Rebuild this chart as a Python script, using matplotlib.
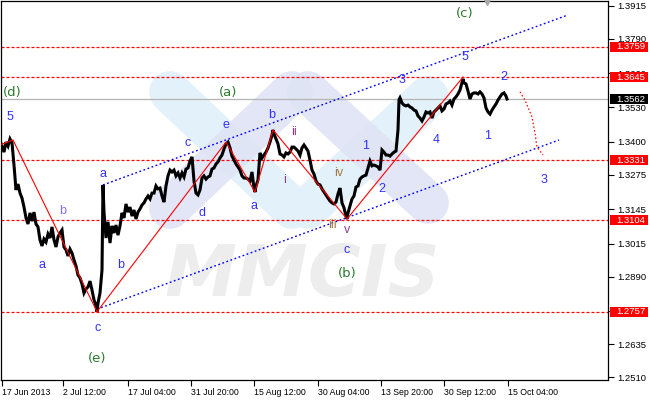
import matplotlib
matplotlib.use("Agg")
import matplotlib.pyplot as plt
import matplotlib.transforms as mtrans
from matplotlib.patches import Rectangle

# ---------------- data ----------------
bars = [0, 2, 4, 6, 8, 10, 12, 14, 16, 18, 20, 22, 24, 26, 28, 30, 32, 34, 36, 38,
        40, 42, 44, 46, 48, 50, 52, 54, 56, 58, 60, 62, 64, 66, 68, 70, 72, 74, 76, 78,
        80, 82, 84, 86, 88, 90, 92, 94, 96, 97, 98, 100, 102, 103, 104, 106, 108, 110, 112, 114,
        116, 118, 120, 122, 124, 126, 128, 130, 132, 134, 136, 138, 140, 142, 144, 146, 148, 150, 152, 154,
        156, 158, 160, 162, 164, 166, 168, 170, 172, 174, 176, 178, 180, 182, 184, 186, 188, 190, 192, 194,
        196, 198, 200, 202, 204, 206, 208, 210, 212, 214, 216, 218, 220, 222, 224, 226, 228, 230, 232, 234,
        236, 238, 240, 242, 244, 246, 248, 250, 252, 254, 255, 256, 258, 260, 262, 264, 266, 268, 270, 272,
        273, 274, 276, 278, 280, 282, 284, 286, 288, 290, 292, 294, 296, 298, 300, 302, 304, 306, 308, 310,
        312, 314, 316, 318, 320, 322, 324, 326, 328, 330, 332, 334, 336, 338, 340, 342, 344, 346, 347, 348,
        350, 352, 354, 356, 358, 360, 362, 364, 366, 368, 370, 372, 374, 376, 378, 380, 382, 384, 386, 388,
        390, 392, 394, 396, 398, 399, 400, 402, 404, 406, 408, 410, 412, 414, 416, 418, 420, 422, 424, 426,
        428, 430, 432, 434, 436, 438, 440, 442, 444, 446, 448, 450, 452, 454, 456, 458, 460, 462, 463, 464,
        466, 468, 470, 472, 474, 476, 478, 480, 482, 484, 486, 488, 490, 492, 494, 496, 498, 500, 502, 504,
        506, 507]

close = [1.3369, 1.3384, 1.3361, 1.3399, 1.3384, 1.3411, 1.3396, 1.3312, 1.3218, 1.3240,
         1.3206, 1.3187, 1.3153, 1.3112, 1.3089, 1.3131, 1.3100, 1.3134, 1.3089, 1.3078,
         1.3029, 1.3006, 1.3032, 1.3021, 1.3051, 1.3036, 1.3078, 1.3029, 1.3002, 1.3040,
         1.3055, 1.3066, 1.3002, 1.2991, 1.2968, 1.2994, 1.2979, 1.2953, 1.2930, 1.2896,
         1.2885, 1.2862, 1.2828, 1.2843, 1.2851, 1.2873, 1.2839, 1.2802, 1.2779, 1.2757,
         1.2790, 1.2828, 1.2915, 1.3237, 1.3134, 1.3036, 1.3097, 1.3017, 1.3082, 1.3055,
         1.3085, 1.3047, 1.3082, 1.3131, 1.3112, 1.3165, 1.3134, 1.3153, 1.3119, 1.3142,
         1.3108, 1.3134, 1.3146, 1.3161, 1.3169, 1.3184, 1.3195, 1.3184, 1.3206, 1.3206,
         1.3233, 1.3222, 1.3225, 1.3195, 1.3172, 1.3233, 1.3271, 1.3293, 1.3286, 1.3293,
         1.3271, 1.3282, 1.3263, 1.3282, 1.3267, 1.3297, 1.3301, 1.3327, 1.3343, 1.3252,
         1.3206, 1.3199, 1.3218, 1.3263, 1.3271, 1.3259, 1.3267, 1.3271, 1.3297, 1.3301,
         1.3316, 1.3324, 1.3339, 1.3350, 1.3373, 1.3392, 1.3399, 1.3377, 1.3346, 1.3331,
         1.3316, 1.3305, 1.3293, 1.3271, 1.3263, 1.3263, 1.3259, 1.3252, 1.3286, 1.3225,
         1.3210, 1.3233, 1.3256, 1.3358, 1.3339, 1.3350, 1.3361, 1.3377, 1.3399, 1.3426,
         1.3445, 1.3430, 1.3411, 1.3392, 1.3354, 1.3350, 1.3343, 1.3358, 1.3354, 1.3361,
         1.3380, 1.3380, 1.3373, 1.3365, 1.3350, 1.3377, 1.3388, 1.3377, 1.3365, 1.3331,
         1.3293, 1.3278, 1.3252, 1.3240, 1.3237, 1.3222, 1.3210, 1.3199, 1.3187, 1.3176,
         1.3169, 1.3165, 1.3172, 1.3203, 1.3225, 1.3169, 1.3150, 1.3119, 1.3108, 1.3131,
         1.3157, 1.3184, 1.3195, 1.3229, 1.3233, 1.3259, 1.3267, 1.3271, 1.3274, 1.3301,
         1.3327, 1.3309, 1.3312, 1.3309, 1.3305, 1.3293, 1.3369, 1.3361, 1.3350, 1.3350,
         1.3346, 1.3354, 1.3361, 1.3365, 1.3445, 1.3558, 1.3566, 1.3547, 1.3539, 1.3536,
         1.3539, 1.3532, 1.3528, 1.3520, 1.3517, 1.3498, 1.3490, 1.3479, 1.3494, 1.3513,
         1.3509, 1.3513, 1.3490, 1.3513, 1.3520, 1.3528, 1.3536, 1.3517, 1.3524, 1.3543,
         1.3547, 1.3554, 1.3539, 1.3562, 1.3570, 1.3581, 1.3596, 1.3623, 1.3638, 1.3623,
         1.3619, 1.3592, 1.3562, 1.3581, 1.3585, 1.3585, 1.3581, 1.3589, 1.3581, 1.3566,
         1.3528, 1.3513, 1.3505, 1.3520, 1.3532, 1.3543, 1.3558, 1.3570, 1.3581, 1.3585,
         1.3573, 1.3562]

x_tick_pos = [2, 63, 128, 191, 254, 318, 381, 444, 508]
x_tick_labels = ["17 Jun 2013", "2 Jul 12:00", "17 Jul 04:00", "31 Jul 20:00",
                 "15 Aug 12:00", "30 Aug 04:00", "13 Sep 20:00", "30 Sep 12:00",
                 "15 Oct 04:00"]
y_ticks = [1.3915, 1.3790, 1.3660, 1.3530, 1.3400, 1.3275, 1.3145, 1.3015,
           1.2890, 1.2760, 1.2635, 1.2510]
y_tick_labels = ["1.3915", "1.3790", "1.3660", "1.3530", "1.3400", "1.3275", "1.3145",
                 "1.3015", "1.2890", "", "1.2635", "1.2510"]

red_levels = [1.3759, 1.3645, 1.3331, 1.3104, 1.2757]
current_price = 1.3562

wave_x = [0, 13, 97, 226, 255, 273, 347, 463]
wave_y = [1.3388, 1.3407, 1.2757, 1.3399, 1.3210, 1.3445, 1.3108, 1.3645]

upper_ch_x = [103, 568]
upper_ch_y = [1.3237, 1.3880]
lower_ch_x = [97, 559]
lower_ch_y = [1.2767, 1.3407]

forecast_x = [520, 525, 532, 535, 537, 543]
forecast_y = [1.3589, 1.3558, 1.3494, 1.3433, 1.3380, 1.3350]

BLUE = "#3030ff"
PURP = "#8a3f8f"
BROWN = "#a07a45"
GREEN = "#2b7a2b"

wave_labels = [
    ("5", 10, 1.3494, BLUE), ("a", 42, 1.2934, BLUE), ("b", 63, 1.3138, "#8a6cff"),
    ("c", 98, 1.2696, BLUE), ("a", 103, 1.3278, BLUE), ("b", 121, 1.2934, BLUE),
    ("c", 188, 1.3396, BLUE), ("d", 202, 1.3131, BLUE), ("e", 226, 1.3464, BLUE),
    ("a", 254, 1.3157, BLUE), ("b", 272, 1.3501, BLUE), ("ii", 294, 1.3437, PURP),
    ("i", 285, 1.3256, PURP), ("iv", 339, 1.3282, BROWN), ("iii", 332, 1.3085, BROWN),
    ("v", 347, 1.3068, PURP), ("c", 347, 1.2991, BLUE), ("1", 366, 1.3384, BLUE),
    ("2", 382, 1.3222, BLUE), ("3", 402, 1.3634, BLUE), ("4", 436, 1.3407, BLUE),
    ("5", 465, 1.3721, BLUE), ("1", 488, 1.3422, BLUE), ("2", 504, 1.3645, BLUE),
    ("3", 544, 1.3256, BLUE),
]
degree_labels = [("(d)", 12, 1.3585), ("(e)", 97, 1.2582), ("(a)", 228, 1.3585),
                 ("(b)", 347, 1.2900), ("(c)", 465, 1.3884)]

# ---------------- figure ----------------
W, H = 650, 400
fig = plt.figure(figsize=(W / 100, H / 100), dpi=100)
fig.patch.set_facecolor("white")
ax = fig.add_axes([0.5 / W, 20 / H, 607.5 / W, 379.5 / H])
ax.set_xlim(0.5, 608)
ax.set_ylim(1.24988, 1.39347)
ax.set_facecolor("white")

# ---- watermark (logo made of rounded bars + "MMCIS") ----
def wm_price(py):
    return 1.39366 - 0.00037836 * py

logo_lb = [((170, 92), (292, 208)), ((428, 97), (308, 208))]   # light-blue "V"
logo_lv = [((170, 208), (292, 92)), ((428, 203), (308, 92))]   # lavender "Λ"
for (xa, ya), (xb, yb) in logo_lb:
    ax.plot([xa, xb], [wm_price(ya), wm_price(yb)], color="#e3f1fa", lw=30,
            solid_capstyle="round", zorder=0.3)
for (xa, ya), (xb, yb) in logo_lv:
    ax.plot([xa, xb], [wm_price(ya), wm_price(yb)], color="#dfe4f5", lw=30,
            solid_capstyle="round", zorder=0.35, alpha=0.9)

ax.text(302, 1.2892, "MMCIS", fontsize=52, fontweight="bold", style="italic",
        color="#ededed", ha="center", va="center", zorder=0.4,
        family="DejaVu Sans")

# horizontal levels
for lv in red_levels:
    ax.axhline(lv, color="#ff0000", lw=0.9, dashes=(2.4, 1.6), zorder=2)
ax.axhline(current_price, color="#b4b4b4", lw=0.9, zorder=2)

# channels
ax.plot(upper_ch_x, upper_ch_y, color="#0000ff", lw=1.0, dashes=(1.3, 1.8), zorder=3)
ax.plot(lower_ch_x, lower_ch_y, color="#0000ff", lw=1.0, dashes=(1.3, 1.8), zorder=3)

# price
ax.plot(bars, close, color="black", lw=2.2, zorder=4, solid_joinstyle="miter")

# wave lines
ax.plot(wave_x, wave_y, color="#ff0000", lw=0.8, zorder=5)
ax.plot(forecast_x, forecast_y, color="#ff0000", lw=0.9, dashes=(1.2, 1.8), zorder=5)

# labels
for t, x, y, c in wave_labels:
    ax.text(x, y, t, color=c, fontsize=9, ha="center", va="center",
            family="Liberation Sans", zorder=6)
for t, x, y in degree_labels:
    ax.text(x, y, t, color=GREEN, fontsize=9.5, ha="center", va="center",
            family="DejaVu Sans", zorder=6, clip_on=False)

# shift marker at top
ax.plot([487], [1.3929], marker="v", ms=5, color="#a8a8a8", clip_on=False, zorder=7)

# axes styling
for s in ax.spines.values():
    s.set_color("black")
    s.set_linewidth(0.9)
ax.yaxis.tick_right()
ax.set_yticks(y_ticks)
ax.set_yticklabels(y_tick_labels, fontsize=6.8, family="Liberation Sans")
ax.set_xticks(x_tick_pos)
ax.set_xticklabels(x_tick_labels, fontsize=6.3, family="Liberation Sans")
for lbl in ax.get_xticklabels():
    lbl.set_horizontalalignment("left")
ax.tick_params(axis="y", direction="out", length=4, width=0.8, pad=3, colors="black")
ax.tick_params(axis="x", direction="out", length=4, width=0.8, pad=2, colors="black")

# boxed price labels on the right axis
blend = mtrans.blended_transform_factory(ax.transAxes, ax.transData)
x0 = (610 - 0.5) / 607.5
x1 = (648 - 0.5) / 607.5
xt = (616 - 0.5) / 607.5
half = 5.2 * 0.00037836
boxes = [(lv, "#ff0000") for lv in red_levels] + [(current_price, "#000000")]
for lv, col in boxes:
    ax.add_patch(Rectangle((x0, lv - half), x1 - x0, 2 * half, transform=blend,
                           facecolor=col, edgecolor="none", clip_on=False, zorder=8))
    ax.text(xt, lv, f"{lv:.4f}", transform=blend, color="white", fontsize=6.8,
            family="Liberation Sans", ha="left", va="center", clip_on=False, zorder=9)

fig.savefig("out.png", dpi=100, facecolor="white")
